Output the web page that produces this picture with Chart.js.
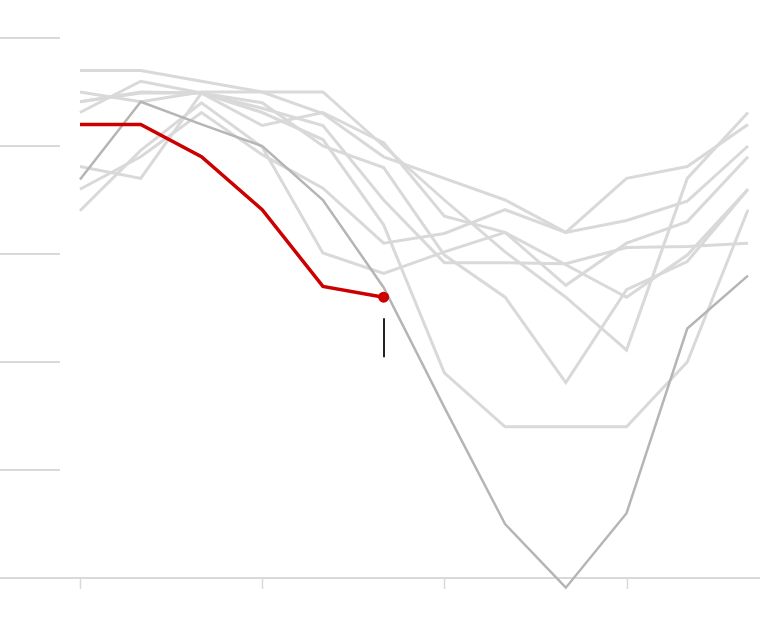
<!DOCTYPE html>
<html>
<head>
<meta charset="utf-8">
<style>
  html, body { margin: 0; padding: 0; background: #fff; }
  #wrap { width: 760px; height: 636px; }
</style>
<script src="https://cdn.jsdelivr.net/npm/chart.js@4"></script>
</head>
<body>
<div id="wrap"><canvas id="chart"></canvas></div>
<script>
// month categories and the ticks shown under the baseline
const months = ['Jan', 'Feb', 'Mar', 'Apr', 'May', 'Jun', 'Jul', 'Aug', 'Sep', 'Oct', 'Nov', 'Dec'];
const tickMonths = ['Jan', 'Apr', 'Jul', 'Oct'];
const yTicks = [0, 10, 20, 30, 40, 50];

// this year, only partly in
const currentYear = [42.0, 42.0, 39.0, 34.1, 27.0, 26.0];

// the record low year
const lowYear = [36.9, 44.1, 42.0, 40.0, 35.0, 26.9, 15.8, 5.0, -0.9, 6.0, 23.1, 28.0];

// the other past years
const past1 = [47.0, 47.0, 46.0, 45.0, 45.0, 40.0, 35.0, 30.2, 26.0, 21.1, 37.0, 43.1];
const past2 = [45.0, 44.1, 45.0, 45.0, 43.0, 39.0, 37.0, 35.0, 32.0, 37.0, 38.1, 42.0];
const past3 = [44.1, 45.0, 44.9, 41.9, 43.1, 40.3, 33.5, 32.0, 29.0, 26.0, 29.9, 36.0];
const past4 = [43.1, 46.0, 44.9, 43.5, 41.9, 35.0, 29.2, 29.2, 29.1, 30.6, 30.7, 31.0];
const past5 = [38.1, 37.0, 44.9, 44.0, 40.0, 38.0, 29.9, 26.0, 18.1, 26.7, 29.3, 36.0];
const past6 = [36.0, 39.0, 43.1, 39.2, 36.1, 31.0, 31.9, 34.1, 32.0, 33.1, 34.9, 40.0];
const past7 = [34.0, 39.6, 44.0, 39.9, 30.1, 28.2, 30.2, 32.0, 27.1, 31.0, 33.0, 39.0];
const past8 = [44.1, 44.9, 44.9, 43.1, 40.6, 32.7, 19.0, 14.0, 14.0, 14.0, 20.0, 34.1];
const pastYears = [past1, past2, past3, past4, past5, past6, past7, past8];

const lightGrey = '#d9d9d9';
const midGrey = '#b5b5b5';
const red = '#cc0000';

// short gridlines at the left, the baseline, ticks and the marker under the last point
const framePlugin = {
    id: 'frame',
    beforeDatasetsDraw(chart) {
        const ctx = chart.ctx;
        const x = chart.scales.x;
        const y = chart.scales.y;
        ctx.save();
        ctx.strokeStyle = lightGrey;
        ctx.lineWidth = 2;
        yTicks.forEach(t => {
            const py = Math.round(y.getPixelForValue(t));
            ctx.beginPath();
            ctx.moveTo(0, py);
            ctx.lineTo(t === 0 ? chart.width : 60, py);
            ctx.stroke();
        });
        const base = Math.round(y.getPixelForValue(0));
        ctx.lineWidth = 1.5;
        tickMonths.forEach(m => {
            const px = Math.round(x.getPixelForValue(months.indexOf(m))) + 0.5;
            ctx.beginPath();
            ctx.moveTo(px, base);
            ctx.lineTo(px, base + 11);
            ctx.stroke();
        });
        ctx.restore();
    },
    afterDatasetsDraw(chart) {
        const ctx = chart.ctx;
        const last = currentYear.length - 1;
        const px = chart.scales.x.getPixelForValue(last);
        const py = chart.scales.y.getPixelForValue(currentYear[last]);
        ctx.save();
        ctx.strokeStyle = '#222';
        ctx.lineWidth = 2;
        ctx.beginPath();
        ctx.moveTo(Math.round(px), py + 21);
        ctx.lineTo(Math.round(px), py + 60);
        ctx.stroke();
        ctx.restore();
    }
};

const datasets = [];
datasets.push({
    label: 'This year',
    data: currentYear,
    borderColor: red,
    backgroundColor: red,
    borderWidth: 3.5,
    pointRadius: currentYear.map((v, i) => i === currentYear.length - 1 ? 5.5 : 0),
    pointBorderWidth: 0,
    order: 0
});
datasets.push({
    label: 'Low year',
    data: lowYear,
    borderColor: midGrey,
    borderWidth: 2.5,
    pointRadius: 0,
    order: 1
});
pastYears.forEach((s, i) => {
    datasets.push({
        label: 'Past ' + (i + 1),
        data: s,
        borderColor: lightGrey,
        borderWidth: 3,
        pointRadius: 0,
        order: 2
    });
});

new Chart(document.getElementById('chart'), {
    type: 'line',
    data: { labels: months, datasets: datasets },
    options: {
        responsive: true,
        maintainAspectRatio: false,
        animation: false,
        clip: false,
        layout: { padding: { left: 80, right: 12, top: 38, bottom: 58 } },
        elements: { line: { tension: 0, borderJoinStyle: 'miter' } },
        plugins: { legend: { display: false }, tooltip: { enabled: false } },
        scales: {
            x: { display: false, offset: false },
            y: { display: false, min: 0, max: 50 }
        }
    },
    plugins: [framePlugin]
});
</script>
</body>
</html>
